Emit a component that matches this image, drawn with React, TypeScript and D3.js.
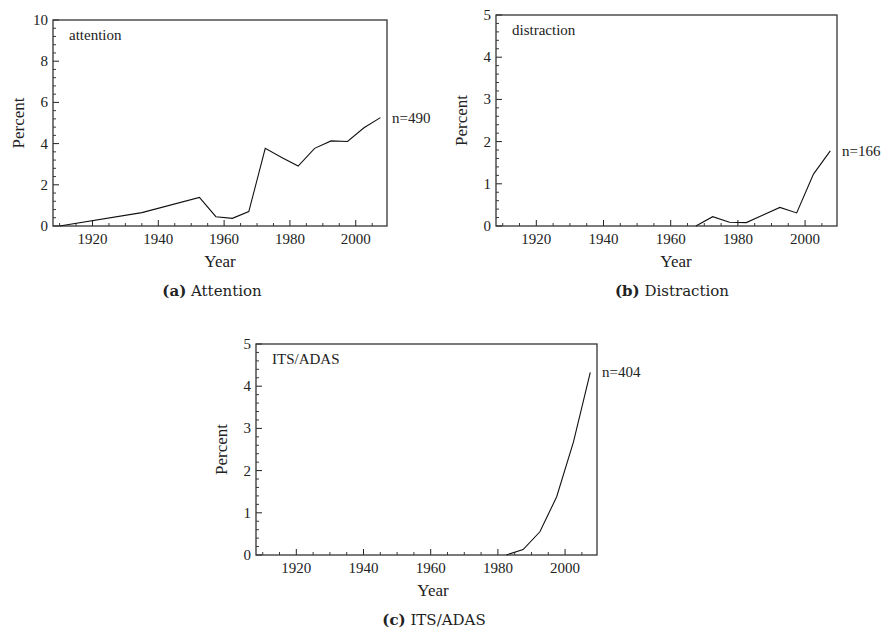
import React, { useEffect, useRef } from "react";
import * as d3 from "d3";

// data (year, percent)
const attentionYears = [1910, 1935, 1952.5, 1957.5, 1962.5, 1967.5, 1972.5, 1977.5, 1982.5, 1987.5, 1992.5, 1997.5, 2002.5, 2007.5];
const attentionValues = [0, 0.65, 1.39, 0.45, 0.37, 0.7, 3.77, 3.33, 2.91, 3.77, 4.13, 4.1, 4.77, 5.26];

const distractionYears = [1967.5, 1972.5, 1977.5, 1982.5, 1987.5, 1992.5, 1997.5, 2002.5, 2007.5];
const distractionValues = [0, 0.22, 0.09, 0.08, 0.26, 0.44, 0.31, 1.23, 1.78];

const itsYears = [1982.5, 1987.5, 1992.5, 1997.5, 2002.5, 2007.5];
const itsValues = [0, 0.13, 0.55, 1.38, 2.68, 4.33];

const xMajorTicks = [1920, 1940, 1960, 1980, 2000];
const panelLabels = ["attention", "distraction", "ITS/ADAS"];
const panelCounts = ["n=490", "n=166", "n=404"];
const captionLetters = ["(a)", "(b)", "(c)"];
const captionTitles = ["Attention", "Distraction", "ITS/ADAS"];

const FONT = "Liberation Serif, Times New Roman, serif";
const CAPTION_FONT = "DejaVu Serif, Liberation Serif, serif";

type Panel = {
  years: number[];
  values: number[];
  yMax: number;
  yStep: number;
  yMinor: number;
  box: { left: number; top: number; right: number; bottom: number };
  yearX: number;
  captionX: number;
  labelIdx: number;
};

const panels: Panel[] = [
  { years: attentionYears, values: attentionValues, yMax: 10, yStep: 2, yMinor: 0.4,
    box: { left: 53, top: 20, right: 387, bottom: 226 }, yearX: 220, captionX: 212, labelIdx: 0 },
  { years: distractionYears, values: distractionValues, yMax: 5, yStep: 1, yMinor: 0.2,
    box: { left: 496, top: 15, right: 837, bottom: 226 }, yearX: 676, captionX: 672, labelIdx: 1 },
  { years: itsYears, values: itsValues, yMax: 5, yStep: 1, yMinor: 0.2,
    box: { left: 256, top: 344, right: 597, bottom: 555 }, yearX: 433, captionX: 434, labelIdx: 2 },
];

function drawPanel(root: d3.Selection<SVGGElement, unknown, null, undefined>, p: Panel) {
  const { left, top, right, bottom } = p.box;
  const x = d3.scaleLinear().domain([1908, 2009.5]).range([left, right]);
  const y = d3.scaleLinear().domain([0, p.yMax]).range([bottom, top]);
  const g = root.append("g");

  // minor ticks
  const xMinor = d3.range(1910, 2009, 5).filter((v) => !xMajorTicks.includes(v));
  g.selectAll(".xminor").data(xMinor).join("line")
    .attr("x1", (d) => x(d)).attr("x2", (d) => x(d))
    .attr("y1", bottom).attr("y2", bottom - 3)
    .attr("stroke", "#222").attr("stroke-width", 0.9);
  const yMinor = d3.range(0, p.yMax + 1e-6, p.yMinor).filter((v) => Math.abs(v / p.yStep - Math.round(v / p.yStep)) > 1e-6);
  g.selectAll(".yminor").data(yMinor).join("line")
    .attr("x1", left).attr("x2", left + 3)
    .attr("y1", (d) => y(d)).attr("y2", (d) => y(d))
    .attr("stroke", "#222").attr("stroke-width", 0.9);

  // major ticks + labels
  g.selectAll(".xmajor").data(xMajorTicks).join("line")
    .attr("x1", (d) => x(d)).attr("x2", (d) => x(d))
    .attr("y1", bottom).attr("y2", bottom - 6)
    .attr("stroke", "#222").attr("stroke-width", 1);
  g.selectAll(".xlab").data(xMajorTicks).join("text")
    .attr("x", (d) => x(d)).attr("y", bottom + 18)
    .attr("text-anchor", "middle").attr("font-size", 15).attr("fill", "#222")
    .text((d) => String(d));
  const yMajor = d3.range(0, p.yMax + 1e-6, p.yStep);
  g.selectAll(".ymajor").data(yMajor).join("line")
    .attr("x1", left).attr("x2", left + 6)
    .attr("y1", (d) => y(d)).attr("y2", (d) => y(d))
    .attr("stroke", "#222").attr("stroke-width", 1);
  g.selectAll(".ylab").data(yMajor).join("text")
    .attr("x", left - 5).attr("y", (d) => y(d) + 5)
    .attr("text-anchor", "end").attr("font-size", 15).attr("fill", "#222")
    .text((d) => String(d));

  // frame
  g.append("rect")
    .attr("x", left).attr("y", top)
    .attr("width", right - left).attr("height", bottom - top)
    .attr("fill", "none").attr("stroke", "#333").attr("stroke-width", 1.3);

  // series
  const pts = p.years.map((yr, i) => [yr, p.values[i]] as [number, number]);
  const line = d3.line<[number, number]>().x((d) => x(d[0])).y((d) => y(d[1]));
  g.append("path").attr("d", line(pts) || "")
    .attr("fill", "none").attr("stroke", "#111").attr("stroke-width", 1.1);

  const last = pts[pts.length - 1];
  g.append("text")
    .attr("x", right + 5).attr("y", y(last[1]) + 5)
    .attr("font-size", 15).attr("fill", "#222")
    .text(panelCounts[p.labelIdx]);

  g.append("text")
    .attr("x", left + 16).attr("y", top + 20)
    .attr("font-size", 15).attr("fill", "#222")
    .text(panelLabels[p.labelIdx]);

  // axis titles
  g.append("text")
    .attr("transform", `translate(${left - 29},${(top + bottom) / 2}) rotate(-90)`)
    .attr("text-anchor", "middle").attr("font-size", 17).attr("fill", "#222")
    .text("Percent");
  g.append("text")
    .attr("x", p.yearX).attr("y", bottom + 41)
    .attr("text-anchor", "middle").attr("font-size", 17).attr("fill", "#222")
    .text("Year");

  // caption
  const cap = g.append("text")
    .attr("x", p.captionX).attr("y", bottom + 70)
    .attr("text-anchor", "middle").attr("font-size", 15).attr("fill", "#222")
    .style("font-family", CAPTION_FONT);
  cap.append("tspan").attr("font-weight", "bold").text(captionLetters[p.labelIdx]);
  cap.append("tspan").text(" " + captionTitles[p.labelIdx]);
}

export default function App() {
  const ref = useRef<SVGSVGElement | null>(null);

  useEffect(() => {
    if (!ref.current) return;
    const svg = d3.select(ref.current);
    svg.selectAll("*").remove();
    const root = svg.append("g").style("font-family", FONT);
    panels.forEach((p) => drawPanel(root, p));
  }, []);

  return (
    <svg
      ref={ref}
      width={886}
      height={632}
      style={{ position: "absolute", left: 0, top: 0, background: "#fff", fontFamily: FONT }}
    />
  );
}
